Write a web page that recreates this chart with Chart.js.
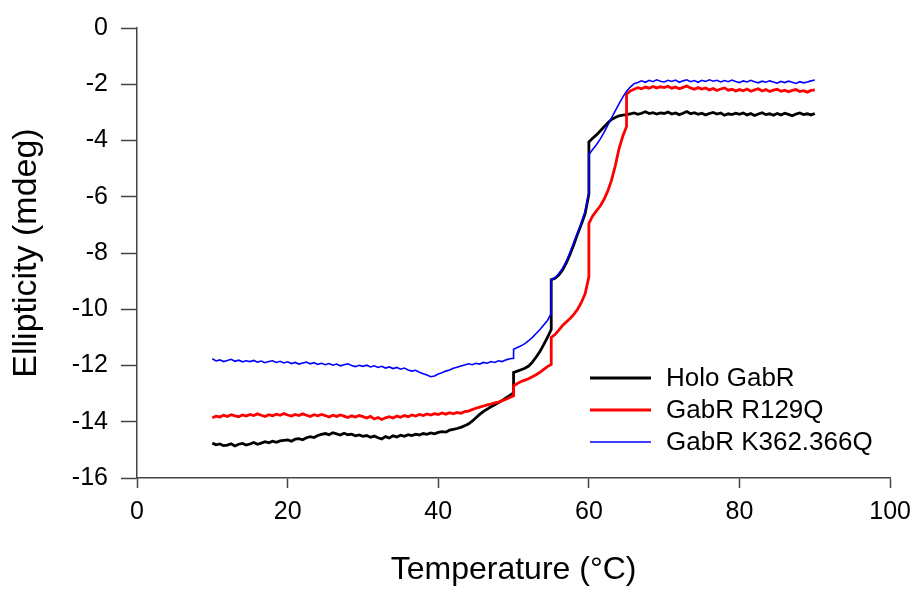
<!DOCTYPE html>
<html>
<head>
<meta charset="utf-8">
<title>Thermal melt - GabR variants</title>
<script src="https://cdn.jsdelivr.net/npm/chart.js@4"></script>
<style>
    html, body { margin: 0; padding: 0; background: #fff; }
    #wrap { width: 920px; height: 590px; }
</style>
</head>
<body>
<div id="wrap"><canvas id="chart_div" width="920" height="590"></canvas></div>
<script>
// temperature grid (degC); repeated temperatures are where the signal jumps
var temps = [
    10, 10.5, 11, 11.5, 12, 12.5, 13, 13.5, 14, 14.5,
    15, 15.5, 16, 16.5, 17, 17.5, 18, 18.5, 19, 19.5,
    20, 20.5, 21, 21.5, 22, 22.5, 23, 23.5, 24, 24.5,
    25, 25.5, 26, 26.5, 27, 27.5, 28, 28.5, 29, 29.5,
    30, 30.5, 31, 31.5, 32, 32.5, 33, 33.5, 34, 34.5,
    35, 35.5, 36, 36.5, 37, 37.5, 38, 38.5, 39, 39.5,
    40, 40.5, 41, 41.5, 42, 42.5, 43, 43.5, 44, 44.5,
    45, 45.5, 46, 46.5, 47, 47.5, 48, 48.5, 49, 49.5,
    50, 50, 50.5, 51, 51.5, 52, 52.5, 53, 53.5, 54, 54.5,
    55, 55, 55.5, 56, 56.5, 57, 57.5, 58, 58.5, 59, 59.5,
    60, 60, 60.5, 61, 61.5, 62, 62.5, 63, 63.5, 64, 64.5,
    65, 65, 65.5, 66, 66.5, 67, 67.5, 68, 68.5, 69, 69.5,
    70, 70.5, 71, 71.5, 72, 72.5, 73, 73.5, 74, 74.5,
    75, 75.5, 76, 76.5, 77, 77.5, 78, 78.5, 79, 79.5,
    80, 80.5, 81, 81.5, 82, 82.5, 83, 83.5, 84, 84.5,
    85, 85.5, 86, 86.5, 87, 87.5, 88, 88.5, 89, 89.5,
    90
];

// ellipticity (mdeg)
var holo_gabr = [
    -14.76, -14.82, -14.79, -14.85, -14.83, -14.78, -14.86, -14.80, -14.77, -14.83,
    -14.79, -14.74, -14.80, -14.76, -14.71, -14.75, -14.69, -14.73, -14.68, -14.66,
    -14.65, -14.69, -14.62, -14.60, -14.64, -14.57, -14.53, -14.56, -14.49, -14.45,
    -14.42, -14.46, -14.39, -14.43, -14.47, -14.41, -14.46, -14.44, -14.50, -14.47,
    -14.52, -14.49, -14.55, -14.51, -14.57, -14.61, -14.53, -14.58, -14.50, -14.54,
    -14.48, -14.52, -14.46, -14.49, -14.44, -14.47, -14.42, -14.45, -14.40, -14.43,
    -14.38, -14.35, -14.37, -14.30, -14.27, -14.24, -14.20, -14.14, -14.08, -13.98,
    -13.86, -13.74, -13.63, -13.55, -13.47, -13.40, -13.32, -13.24, -13.15, -13.06,
    -12.98, -12.25, -12.20, -12.15, -12.10, -12.02, -11.88, -11.70, -11.50, -11.26, -11.00,
    -10.72, -8.95, -8.90, -8.78, -8.60, -8.35, -8.04, -7.70, -7.32, -6.98, -6.60,
    -5.90, -4.05, -3.92, -3.80, -3.66, -3.52, -3.38, -3.25, -3.18, -3.12, -3.10,
    -3.08, -3.08, -3.05, -3.02, -3.07, -3.03, -2.98, -3.04, -3.01, -3.06, -3.02,
    -3.04, -2.99, -3.06, -3.02, -3.08, -3.03, -2.97, -3.05, -3.01, -3.07,
    -3.03, -3.09, -3.04, -3.00, -3.06, -3.02, -3.10, -3.05, -3.08, -3.03,
    -3.07, -3.02, -3.09, -3.04, -3.11, -3.06, -3.01, -3.08, -3.05, -3.10,
    -3.04, -3.09, -3.03, -3.07, -3.12, -3.06, -3.02, -3.08, -3.05, -3.09,
    -3.04
];

var gabr_r129q = [
    -13.86, -13.80, -13.83, -13.77, -13.81, -13.75, -13.79, -13.82, -13.76, -13.80,
    -13.74, -13.78, -13.72, -13.77, -13.81, -13.75, -13.79, -13.73, -13.77, -13.71,
    -13.76, -13.80, -13.74, -13.78, -13.72, -13.77, -13.81, -13.75, -13.79, -13.74,
    -13.78, -13.83, -13.77, -13.81, -13.76, -13.80, -13.85, -13.79, -13.83, -13.78,
    -13.82, -13.87, -13.81, -13.90, -13.85, -13.92, -13.86, -13.82, -13.87, -13.80,
    -13.84, -13.78, -13.82, -13.76, -13.80, -13.74, -13.78, -13.72, -13.76, -13.71,
    -13.74, -13.69, -13.73, -13.68, -13.72, -13.67, -13.70, -13.64, -13.62, -13.57,
    -13.52, -13.48, -13.44, -13.40, -13.37, -13.33, -13.30, -13.25, -13.20, -13.14,
    -13.08, -12.72, -12.64, -12.57, -12.52, -12.47, -12.40, -12.33, -12.24, -12.14, -12.04,
    -11.96, -11.00, -10.90, -10.74, -10.58, -10.45, -10.33, -10.18, -10.00, -9.76, -9.45,
    -8.85, -6.95, -6.68, -6.50, -6.33, -6.10, -5.80, -5.42, -4.90, -4.30, -3.85,
    -3.50, -2.35, -2.24, -2.18, -2.12, -2.16, -2.10, -2.14, -2.08, -2.13, -2.09,
    -2.12, -2.07, -2.14, -2.10, -2.16, -2.11, -2.06, -2.13, -2.18, -2.12,
    -2.17, -2.13, -2.20, -2.15, -2.22, -2.17, -2.13, -2.21, -2.18, -2.24,
    -2.19, -2.23, -2.17, -2.25, -2.20, -2.16, -2.24, -2.19, -2.26, -2.21,
    -2.18, -2.25, -2.21, -2.27, -2.22, -2.19, -2.26, -2.23, -2.28, -2.22,
    -2.20
];

var gabr_k362_366q = [
    -11.76, -11.84, -11.80, -11.86, -11.82, -11.78, -11.85, -11.81, -11.87, -11.83,
    -11.86, -11.82, -11.88, -11.84, -11.90, -11.86, -11.83, -11.89, -11.85, -11.91,
    -11.87, -11.93, -11.89, -11.95, -11.91, -11.88, -11.94, -11.90, -11.96, -11.92,
    -11.97, -11.93, -11.99, -11.95, -12.01, -11.97, -11.94, -12.00, -12.04, -11.99,
    -12.03, -11.99, -12.05, -12.01, -12.07, -12.03, -12.09, -12.05, -12.11, -12.07,
    -12.13, -12.09, -12.16, -12.20, -12.17, -12.24, -12.29, -12.34, -12.40, -12.37,
    -12.30, -12.26, -12.20, -12.16, -12.10, -12.06, -12.02, -11.98, -11.94, -11.97,
    -11.92, -11.95, -11.89, -11.92, -11.86, -11.89, -11.83, -11.86, -11.80, -11.76,
    -11.74, -11.42, -11.36, -11.30, -11.22, -11.12, -11.00, -10.86, -10.72, -10.56, -10.40,
    -10.15, -8.95, -8.88, -8.74, -8.55, -8.30, -7.98, -7.62, -7.28, -6.92, -6.52,
    -5.85, -4.50, -4.32, -4.15, -3.95, -3.72, -3.46, -3.20, -2.95, -2.70, -2.46,
    -2.25, -2.25, -2.10, -1.98, -1.94, -1.88, -1.93, -1.86, -1.91, -1.84, -1.89,
    -1.92, -1.86, -1.90, -1.85, -1.93, -1.88, -1.84, -1.91, -1.87, -1.93,
    -1.86, -1.90, -1.84, -1.89, -1.86, -1.92, -1.87, -1.91, -1.85, -1.90,
    -1.94, -1.88, -1.92, -1.86, -1.91, -1.95, -1.89, -1.93, -1.88, -1.92,
    -1.96, -1.90, -1.94, -1.89, -1.93, -1.97, -1.91, -1.95, -1.92, -1.88,
    -1.85
];

var series_names = ['Holo GabR', 'GabR R129Q', 'GabR K362.366Q'];
var series_colors = ['#000000', '#ff0000', '#0000ff'];
var series_widths = [2.8, 2.8, 1.6];
var x_ticks = [0, 20, 40, 60, 80, 100];
var y_ticks = [0, -2, -4, -6, -8, -10, -12, -14, -16];

var FONT = '"Liberation Sans", Arial, Helvetica, sans-serif';
var AXIS_COLOR = '#444444';

function toPoints(values) {
    var pts = [];
    for (var i = 0; i < temps.length; i++) {
        pts.push({x: temps[i], y: values[i]});
    }
    return pts;
}

// legend sits inside the plot, bottom right
var insideLegend = {
    id: 'insideLegend',
    afterDraw: function (chart) {
        var ctx = chart.ctx,
            rows = [378, 410, 442];
        ctx.save();
        ctx.font = '26px ' + FONT;
        ctx.textBaseline = 'middle';
        ctx.fillStyle = '#000';
        chart.data.datasets.forEach(function (ds, i) {
            var y = rows[i];
            ctx.beginPath();
            ctx.strokeStyle = ds.borderColor;
            ctx.lineWidth = ds.borderWidth;
            ctx.moveTo(590, y);
            ctx.lineTo(651, y);
            ctx.stroke();
            ctx.fillText(ds.label, 666, y + 1);
        });
        ctx.restore();
    }
};

window.onload = function () {
    var sets = [holo_gabr, gabr_r129q, gabr_k362_366q],
        datasets = [];

    sets.forEach(function (values, i) {
        if (values.length !== temps.length) {
            console.log('length mismatch in ' + series_names[i]);
        }
        datasets.push({
            label: series_names[i],
            data: toPoints(values),
            borderColor: series_colors[i],
            backgroundColor: series_colors[i],
            borderWidth: series_widths[i],
            pointRadius: 0,
            tension: 0,
            fill: false,
            order: 3 - i
        });
    });

    new Chart(document.getElementById('chart_div'), {
        type: 'line',
        data: {datasets: datasets},
        plugins: [insideLegend],
        options: {
            responsive: false,
            animation: false,
            events: [],
            layout: {padding: {left: 0, right: 28, top: 24, bottom: 0}},
            plugins: {
                legend: {display: false},
                tooltip: {enabled: false}
            },
            scales: {
                x: {
                    type: 'linear',
                    min: 0,
                    max: 100,
                    afterFit: function (scale) { scale.height = 112; },
                    afterBuildTicks: function (scale) {
                        scale.ticks = x_ticks.map(function (v) { return {value: v}; });
                    },
                    grid: {drawOnChartArea: false, drawTicks: true, tickLength: 10, color: AXIS_COLOR, tickWidth: 1.5},
                    border: {display: true, color: AXIS_COLOR, width: 1.5},
                    ticks: {color: '#000', padding: 9, font: {family: FONT, size: 25}, maxRotation: 0},
                    title: {
                        display: true,
                        text: 'Temperature (°C)',
                        color: '#000',
                        font: {family: FONT, size: 32},
                        padding: {top: 0, bottom: 1}
                    }
                },
                y: {
                    type: 'linear',
                    min: -16,
                    max: 0,
                    afterFit: function (scale) { scale.width = 137; },
                    afterBuildTicks: function (scale) {
                        scale.ticks = y_ticks.map(function (v) { return {value: v}; });
                    },
                    grid: {drawOnChartArea: false, drawTicks: true, tickLength: 16, color: AXIS_COLOR, tickWidth: 1.5},
                    border: {display: true, color: AXIS_COLOR, width: 1.5},
                    ticks: {color: '#000', padding: 13, font: {family: FONT, size: 25}},
                    title: {
                        display: true,
                        text: 'Ellipticity (mdeg)',
                        color: '#000',
                        font: {family: FONT, size: 34},
                        padding: {top: 6, bottom: 0}
                    }
                }
            }
        }
    });
};
</script>
</body>
</html>
